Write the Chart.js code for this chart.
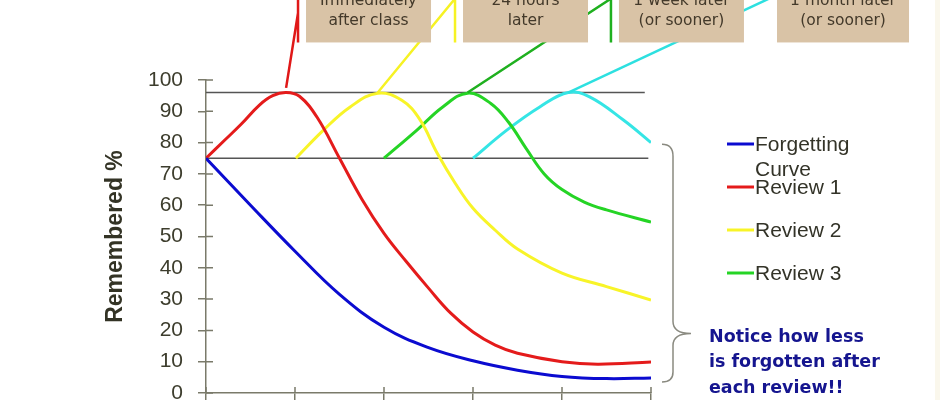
<!DOCTYPE html>
<html>
<head>
<meta charset="utf-8">
<script src="https://cdn.jsdelivr.net/npm/chart.js@4.4.1/dist/chart.umd.min.js"></script>
<style>
  html, body { margin: 0; padding: 0; background: #fff; }
  #wrap { width: 940px; height: 400px; }
</style>
</head>
<body>
<div id="wrap"><canvas id="curveChart" width="940" height="400"></canvas></div>
<script>
// points are [review interval, remembered %]
const forgettingCurve = [[0,75],[0.5,60],[1,45.3],[1.5,31.5],[2,21],[2.5,14.5],[3,10.3],[3.5,7.3],[4,5.3],[4.5,4.6],[5,4.8]];
const review1 = [[0,75],[0.2,80.5],[0.4,86],[0.6,92],[0.75,95],[0.9,96],[1.05,94.8],[1.25,88],[1.5,75],[1.75,62],[2,51],[2.25,42],[2.5,33.5],[2.75,25.5],[3,19.5],[3.25,15.3],[3.5,12.7],[4,10],[4.4,9.2],[5,9.9]];
const review2 = [[1.01,75],[1.32,84],[1.62,91.4],[1.93,95.8],[2.2,93.5],[2.4,87.5],[2.6,76.5],[2.8,67],[3,59],[3.25,52],[3.5,46],[4,38.3],[4.5,34],[5,29.7]];
const review3 = [[2,75],[2.37,84],[2.66,91.4],[2.94,95.8],[3.2,92.5],[3.4,86.5],[3.6,78],[3.8,70],[4,65],[4.25,61],[4.5,58.5],[5,54.6]];
const review4 = [[3,75],[3.38,84],[3.75,91.4],[4.07,96],[4.31,94.6],[4.69,87.2],[5,80]];

const peakLine = [[0,96],[4.93,96]];
const baseLine = [[0,75],[4.97,75]];

// callouts to the boxes at the top
const calloutX = [1.034, 2.798, 4.55, 6.326];
const calloutStart = [[0.9,97.5],[1.93,96],[2.94,96],[4.07,96]];
const calloutEnd = [[1.034,121.4],[2.798,126],[4.55,126],[6.326,126]];
const calloutTop = 127;
const boxBottom = 112;
const boxLabels = [
  ['Immediately', 'after class'],
  ['24 hours', 'later'],
  ['1 week later', '(or sooner)'],
  ['1 month later', '(or sooner)']
];

const yTicks = [0,10,20,30,40,50,60,70,80,90,100];
const noteLines = ['Notice how less', 'is forgotten after', 'each review!!'];

const colors = ['#0b0bd0', '#e41b1b', '#f8f428', '#25d425', '#35e5e5'];
const calloutColors = ['#e01818', '#f6f224', '#1fb01f', '#2de0e0'];

function pts(arr) {
  return arr.map(p => ({ x: p[0], y: p[1] }));
}

function curve(label, arr, color, inLegend) {
  return {
    label: label,
    data: pts(arr),
    borderColor: color,
    borderWidth: 3,
    pointRadius: 0,
    tension: 0.4,
    fill: false,
    inLegend: inLegend,
    order: 2
  };
}

function guide(arr) {
  return {
    label: 'guide',
    data: pts(arr),
    borderColor: '#555555',
    borderWidth: 1.5,
    pointRadius: 0,
    tension: 0,
    order: 5
  };
}

function callout(i) {
  const xv = calloutX[i];
  return {
    label: 'callout',
    data: [
      { x: calloutStart[i][0], y: calloutStart[i][1] },
      { x: calloutEnd[i][0], y: calloutEnd[i][1] },
      { x: xv, y: null },
      { x: xv, y: boxBottom },
      { x: xv, y: calloutTop }
    ],
    borderColor: calloutColors[i],
    borderWidth: 2.5,
    pointRadius: 0,
    tension: 0,
    spanGaps: false,
    clip: false,
    order: 1
  };
}

const datasets = [
  curve('Forgetting Curve', forgettingCurve, colors[0], true),
  curve('Review 1', review1, colors[1], true),
  curve('Review 2', review2, colors[2], true),
  curve('Review 3', review3, colors[3], true),
  curve('Review 4', review4, colors[4], false),
  guide(peakLine),
  guide(baseLine),
  callout(0), callout(1), callout(2), callout(3)
];

const axisColor = '#7a7a6a';

const extras = {
  id: 'extras',
  beforeDraw(chart) {
    const ctx = chart.ctx;
    ctx.save();
    ctx.fillStyle = '#faf7ec';
    ctx.fillRect(935, 0, 5, chart.height);
    ctx.restore();
  },
  afterDraw(chart) {
    const { ctx, chartArea, scales } = chart;
    const x = scales.x, y = scales.y;
    ctx.save();

    // tick marks inside the axes
    ctx.strokeStyle = axisColor;
    ctx.lineWidth = 1.5;
    ctx.beginPath();
    yTicks.forEach(v => {
      const py = y.getPixelForValue(v);
      ctx.moveTo(chartArea.left, py);
      ctx.lineTo(chartArea.left + 7, py);
    });
    for (let v = 0; v <= 5; v++) {
      const px = x.getPixelForValue(v);
      ctx.moveTo(px, chartArea.bottom);
      ctx.lineTo(px, chartArea.bottom - 6);
    }
    ctx.stroke();

    // boxes at the top
    const bottom = y.getPixelForValue(boxBottom);
    boxLabels.forEach((lines, i) => {
      const left = x.getPixelForValue(calloutX[i]) + 8;
      const w = i === 3 ? 132 : 125;
      ctx.fillStyle = '#d9c3a6';
      ctx.fillRect(left, -5, w, bottom + 5);
      ctx.fillStyle = '#43392a';
      ctx.font = '15.5px "DejaVu Sans"';
      ctx.textAlign = 'center';
      ctx.textBaseline = 'middle';
      ctx.fillText(lines[0], left + w / 2, 1);
      ctx.fillText(lines[1], left + w / 2, 21);
    });

    // legend
    ctx.font = '21px "Liberation Sans", Arial';
    ctx.textAlign = 'left';
    ctx.textBaseline = 'middle';
    let row = 0;
    chart.data.datasets.forEach(ds => {
      if (!ds.inLegend) return;
      const cy = 144 + row * 43;
      ctx.strokeStyle = ds.borderColor;
      ctx.lineWidth = 3;
      ctx.beginPath();
      ctx.moveTo(727, cy);
      ctx.lineTo(754, cy);
      ctx.stroke();
      ctx.fillStyle = '#333328';
      const words = ds.label.split(' ');
      let line = '', ly = cy + 1;
      words.forEach(wd => {
        const test = line ? line + ' ' + wd : wd;
        if (ctx.measureText(test).width > 120 && line) {
          ctx.fillText(line, 755, ly);
          line = wd;
          ly += 25;
        } else {
          line = test;
        }
      });
      ctx.fillText(line, 755, ly);
      row++;
    });

    // brace
    const bx = chartArea.right + 22;
    const top = y.getPixelForValue(75) - 14;
    const tip = y.getPixelForValue(19);
    const bot = y.getPixelForValue(3.5);
    ctx.strokeStyle = '#8a8a80';
    ctx.lineWidth = 1.5;
    ctx.beginPath();
    ctx.moveTo(bx - 11, top);
    ctx.quadraticCurveTo(bx, top, bx, top + 12);
    ctx.lineTo(bx, tip - 12);
    ctx.quadraticCurveTo(bx, tip, bx + 18, tip);
    ctx.quadraticCurveTo(bx, tip, bx, tip + 12);
    ctx.lineTo(bx, bot - 10);
    ctx.quadraticCurveTo(bx, bot, bx - 11, bot);
    ctx.stroke();

    // note
    ctx.fillStyle = '#15158f';
    ctx.font = 'bold 17.5px "DejaVu Sans"';
    noteLines.forEach((t, i) => {
      ctx.fillText(t, 709, 337 + i * 25.5);
    });

    ctx.restore();
  }
};

new Chart(document.getElementById('curveChart'), {
  type: 'line',
  data: { datasets: datasets },
  options: {
    responsive: false,
    animation: false,
    layout: { padding: { left: 0, right: 289, top: 80, bottom: 0 } },
    plugins: {
      legend: { display: false },
      tooltip: { enabled: false }
    },
    scales: {
      x: {
        type: 'linear',
        min: 0,
        max: 5,
        ticks: { stepSize: 1, display: false },
        grid: { drawOnChartArea: false, color: axisColor, lineWidth: 1.5, tickLength: 7 },
        border: { color: axisColor, width: 1.5 },
        afterFit(scale) {
          scale.height = 7;
          scale.paddingLeft = 0;
          scale.paddingRight = 0;
        }
      },
      y: {
        min: 0,
        max: 100,
        afterBuildTicks(scale) { scale.ticks = yTicks.map(v => ({ value: v })); },
        ticks: {
          padding: 15,
          color: '#3d3d2d',
          font: { family: '"Liberation Sans", Arial', size: 21 }
        },
        grid: { drawOnChartArea: false, color: axisColor, lineWidth: 1.5, tickLength: 8 },
        border: { color: axisColor, width: 1.5 },
        title: {
          display: true,
          text: 'Remembered %',
          color: '#333325',
          font: { family: '"Liberation Sans", Arial', size: 23, weight: 'bold' },
          padding: { top: 102, bottom: 0 }
        },
        afterFit(scale) {
          scale.width = 206;
          scale.paddingTop = 0;
          scale.paddingBottom = 0;
        }
      }
    }
  },
  plugins: [extras]
});
</script>
</body>
</html>
